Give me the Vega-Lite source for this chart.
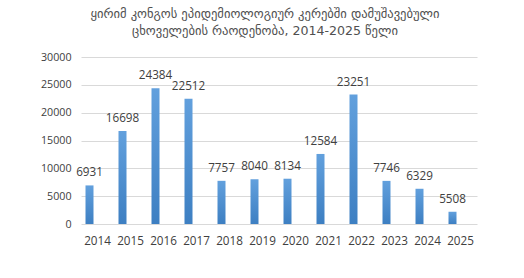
{
  "$schema": "https://vega.github.io/schema/vega-lite/v6.json",
  "width": 396,
  "height": 167,
  "autosize": {"type": "none"},
  "padding": {"left": 81, "top": 57, "right": 47, "bottom": 54},
  "background": "white",
  "title": {
    "text": ["ყირიმ კონგოს  ეპიდემიოლოგიურ  კერებში დამუშავებული", "ცხოველების რაოდენობა, 2014-2025 წელი"],
    "font": "DejaVu Sans",
    "fontSize": 12.6,
    "fontWeight": "normal",
    "color": "#505050",
    "anchor": "middle",
    "dx": -14,
    "offset": 13,
    "lineHeight": 17
  },
  "data": {
    "values": [
      {"year": "2014", "value": 6931, "label": "6931"},
      {"year": "2015", "value": 16698, "label": "16698"},
      {"year": "2016", "value": 24384, "label": "24384"},
      {"year": "2017", "value": 22512, "label": "22512"},
      {"year": "2018", "value": 7757, "label": "7757"},
      {"year": "2019", "value": 8040, "label": "8040"},
      {"year": "2020", "value": 8134, "label": "8134"},
      {"year": "2021", "value": 12584, "label": "12584"},
      {"year": "2022", "value": 23251, "label": "23251"},
      {"year": "2023", "value": 7746, "label": "7746"},
      {"year": "2024", "value": 6329, "label": "6329"},
      {"year": "2025", "value": 2200, "label": "5508"}
    ]
  },
  "encoding": {
    "x": {
      "field": "year",
      "type": "ordinal",
      "scale": {"paddingInner": 0, "paddingOuter": 0},
      "axis": {
        "title": null,
        "labelAngle": 0,
        "domain": false,
        "ticks": false,
        "labelPadding": 11,
        "labelFont": "Open Sans",
        "labelFontSize": 11.7,
        "labelColor": "#404040"
      }
    },
    "y": {
      "field": "value",
      "type": "quantitative",
      "scale": {"domain": [0, 30000]},
      "axis": {
        "title": null,
        "values": [0, 5000, 10000, 15000, 20000, 25000, 30000],
        "format": "d",
        "domain": false,
        "ticks": false,
        "labelPadding": 10,
        "labelFont": "Open Sans",
        "labelFontSize": 10.7,
        "labelColor": "#404040",
        "gridColor": "#d9d9d9",
        "gridWidth": 1
      }
    }
  },
  "layer": [
    {
      "mark": {
        "type": "bar",
        "width": 8,
        "xOffset": -8,
        "color": {
          "gradient": "linear",
          "x1": 0, "y1": 0, "x2": 0, "y2": 1,
          "stops": [
            {"offset": 0, "color": "#62a0dd"},
            {"offset": 1, "color": "#3d7fc2"}
          ]
        }
      }
    },
    {
      "mark": {
        "type": "text",
        "xOffset": -8,
        "dy": -13,
        "baseline": "middle",
        "font": "Open Sans",
        "fontSize": 11.7,
        "color": "#404040"
      },
      "encoding": {"text": {"field": "label"}}
    }
  ],
  "config": {"view": {"stroke": null}}
}
